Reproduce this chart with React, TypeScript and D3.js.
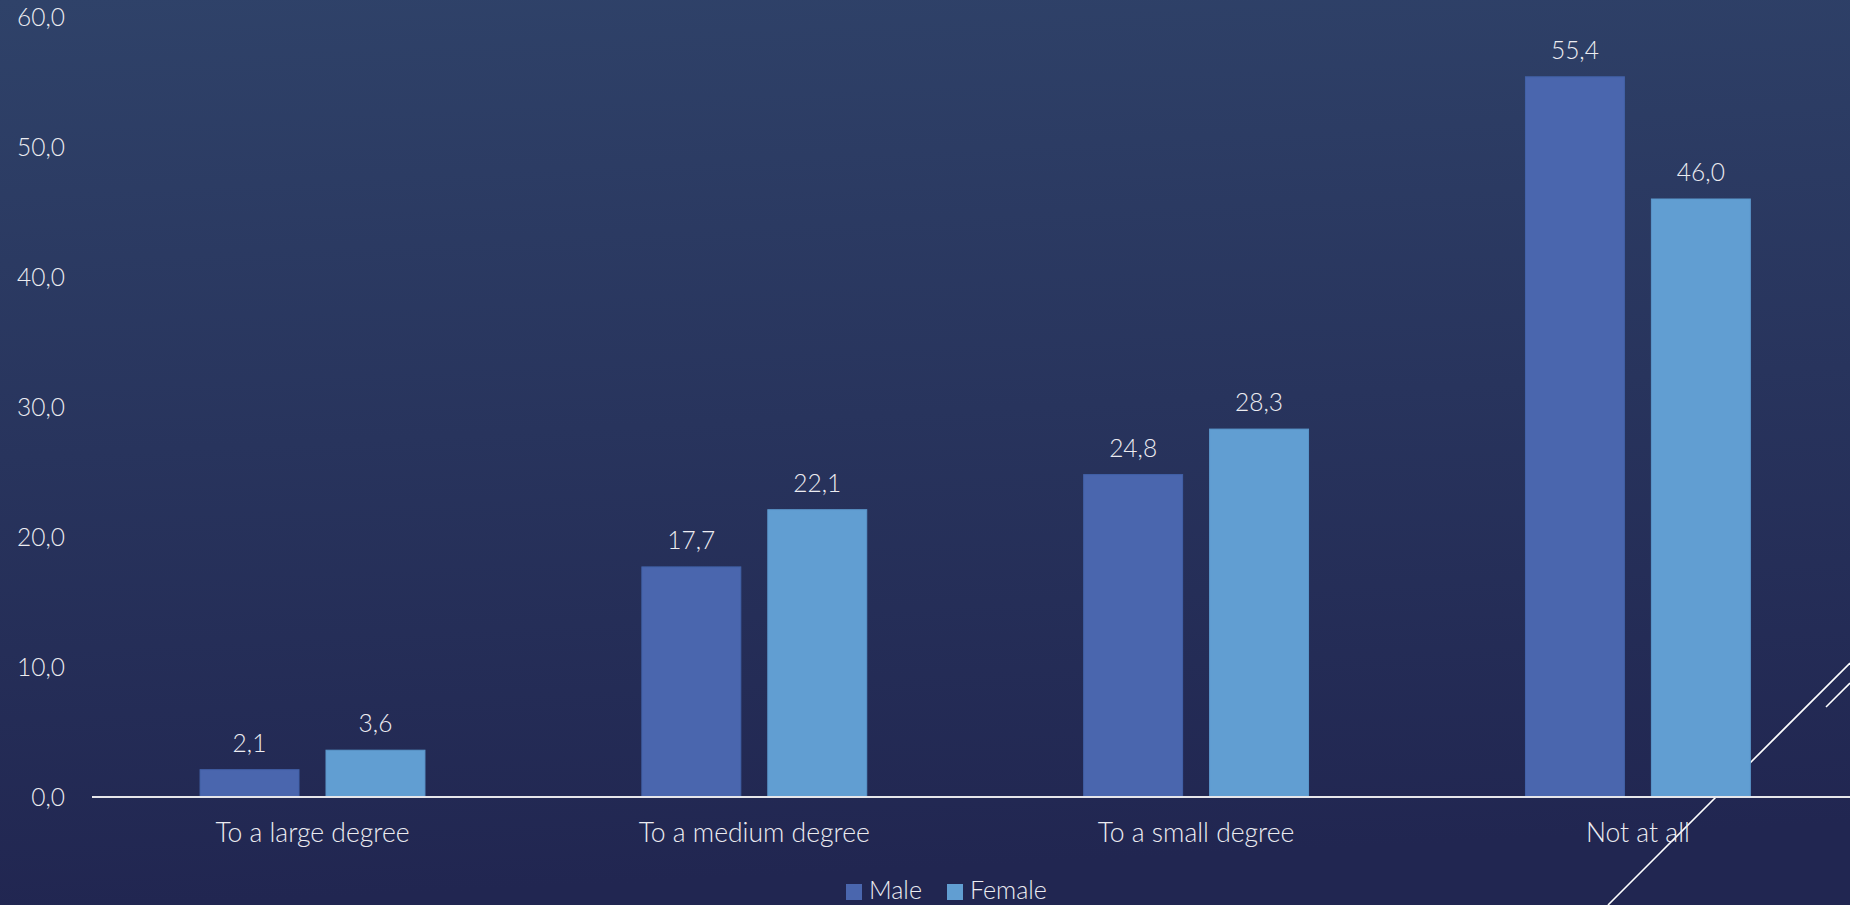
import React from "react";
import * as d3 from "d3";

const categories = ["To a large degree", "To a medium degree", "To a small degree", "Not at all"];
const seriesNames = ["Male", "Female"];
const maleValues = [2.1, 17.7, 24.8, 55.4];
const femaleValues = [3.6, 22.1, 28.3, 46.0];
const yTicks = [0, 10, 20, 30, 40, 50, 60];

const W = 1850;
const H = 905;
const FONT = "Lato, 'Open Sans', sans-serif";
const TEXT = "#ECECF1";
const colors: Record<string, string> = { Male: "#4A66AE", Female: "#619ED2" };

const fmt = (v: number) => v.toFixed(1).replace(".", ",");

export default function App() {
  const y = d3.scaleLinear().domain([0, 60]).range([797, 17]);
  const x0 = d3
    .scaleBand<string>()
    .domain(categories)
    .range([91.6, 1858.8])
    .paddingInner(0.491)
    .paddingOuter(0.2455);
  const x1 = d3.scaleBand<string>().domain(seriesNames).range([0, x0.bandwidth()]).paddingInner(0.2143);
  const values: Record<string, number[]> = { Male: maleValues, Female: femaleValues };

  return (
    <svg
      width={W}
      height={H}
      style={{ position: "fixed", left: 0, top: 0, display: "block" }}
      fontFamily={FONT}
      fontWeight={300}
    >
      <defs>
        <linearGradient id="bg" x1="0" y1="0" x2="0.1" y2="1">
          <stop offset="0" stopColor="#2F4269" />
          <stop offset="1" stopColor="#212651" />
        </linearGradient>
      </defs>
      <rect x={0} y={0} width={W} height={H} fill="url(#bg)" />

      {/* decorative diagonal lines */}
      <line x1={1608} y1={905} x2={1850} y2={663} stroke="#FFFFFF" strokeWidth={1.6} />
      <line x1={1826} y1={707} x2={1850} y2={683} stroke="#FFFFFF" strokeWidth={1.6} />

      {/* y tick labels */}
      {yTicks.map((t) => (
        <text
          key={t}
          x={65}
          y={y(t)}
          dy="0.35em"
          textAnchor="end"
          fontSize={24.5}
          fill={TEXT}
        >
          {fmt(t)}
        </text>
      ))}

      {/* bars */}
      {categories.map((c, i) => (
        <g key={c} transform={`translate(${x0(c)},0)`}>
          {seriesNames.map((s) => {
            const v = values[s][i];
            return (
              <g key={s}>
                <rect
                  x={x1(s)}
                  y={y(v)}
                  width={x1.bandwidth()}
                  height={y(0) - y(v)}
                  fill={colors[s]}
                  stroke={s === "Male" ? "#4262A8" : "#5B97CB"}
                  strokeWidth={1}
                />
                <text
                  x={(x1(s) as number) + x1.bandwidth() / 2}
                  y={y(v) - 18}
                  textAnchor="middle"
                  fontSize={24.5}
                  fill={TEXT}
                >
                  {fmt(v)}
                </text>
              </g>
            );
          })}
        </g>
      ))}

      {/* x axis line */}
      <line x1={92} x2={W} y1={y(0)} y2={y(0)} stroke="#E6E6EA" strokeWidth={2} />

      {/* category labels */}
      {categories.map((c) => (
        <text
          key={c}
          x={(x0(c) as number) + x0.bandwidth() / 2}
          y={842}
          textAnchor="middle"
          fontSize={26.5}
          fill={TEXT}
        >
          {c}
        </text>
      ))}

      {/* legend */}
      {seriesNames.map((s, i) => {
        const lx = i === 0 ? 846 : 947;
        return (
          <g key={s}>
            <rect x={lx} y={884} width={16} height={16} fill={colors[s]} />
            <text x={lx + 23} y={899} fontSize={25} fill={TEXT}>
              {s}
            </text>
          </g>
        );
      })}
    </svg>
  );
}
